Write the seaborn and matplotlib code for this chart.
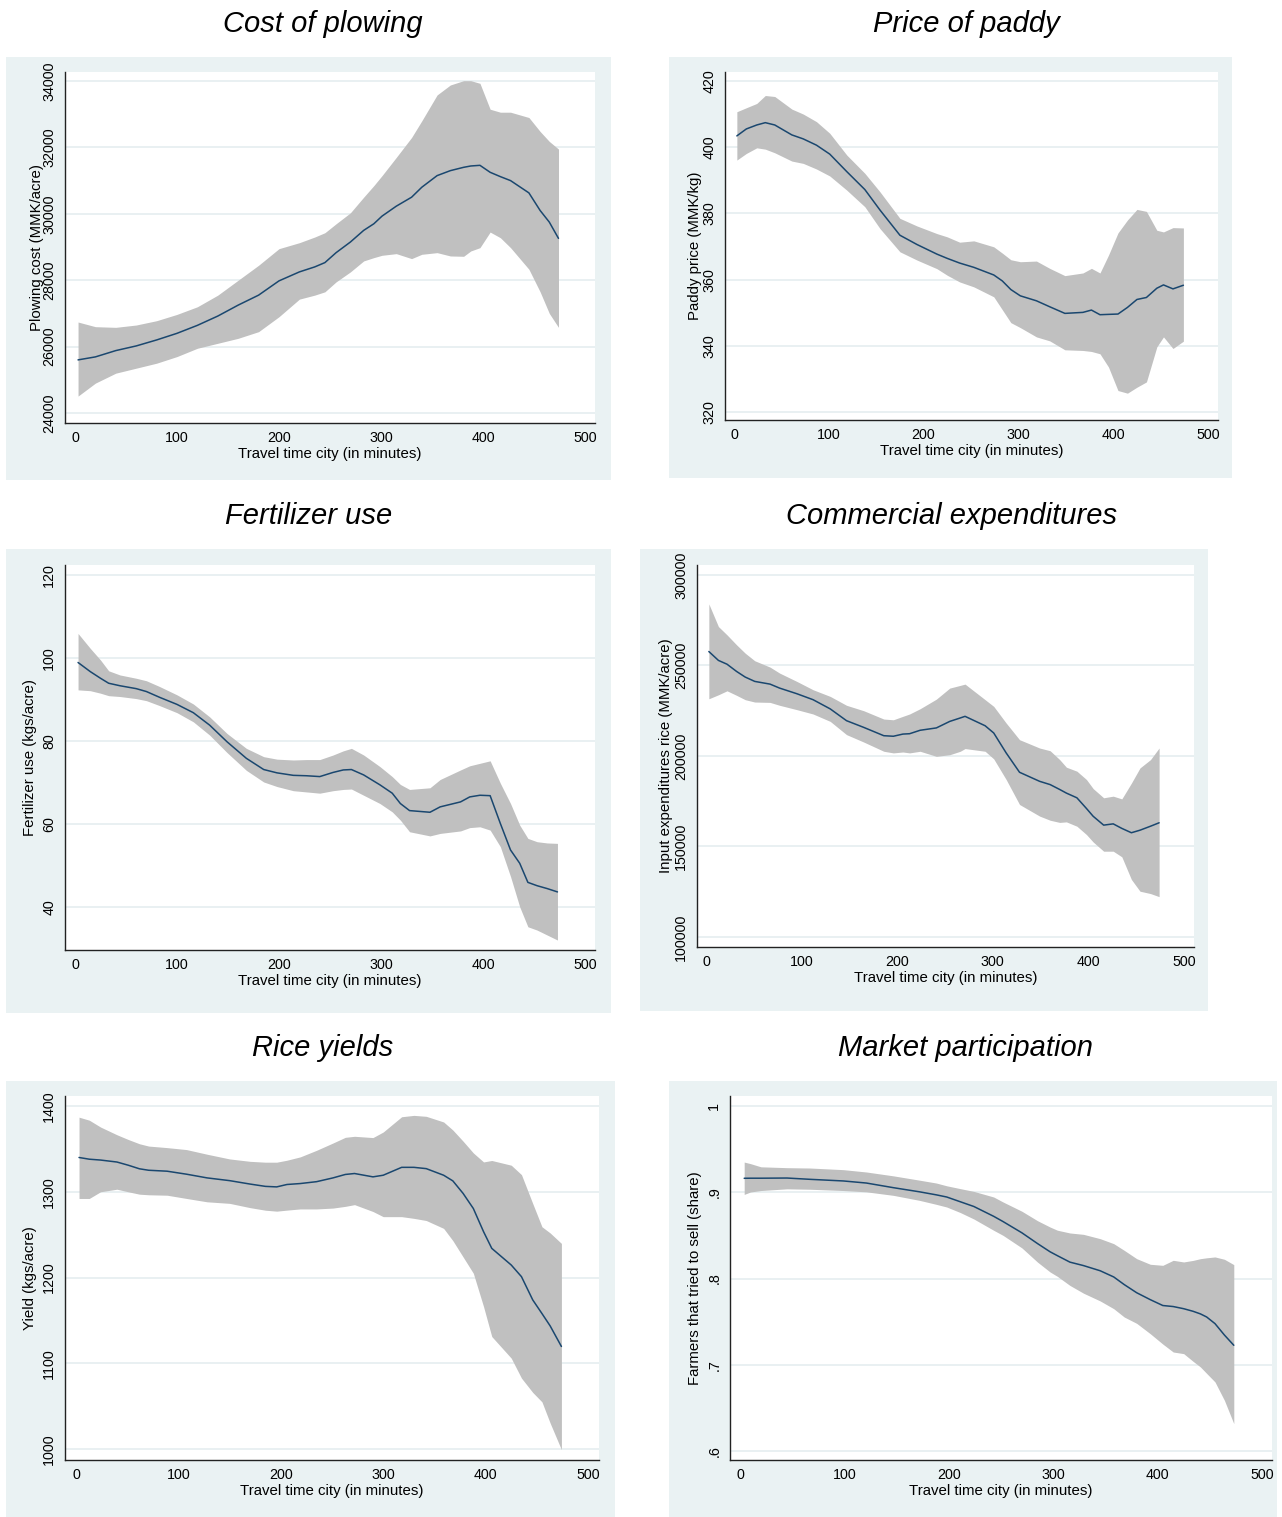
import numpy as np
import matplotlib
matplotlib.use("Agg")
import matplotlib.pyplot as plt
from matplotlib.patches import Rectangle
import seaborn as sns

sns.set_theme(style="white")
plt.rcParams['font.family'] = ['Liberation Sans', 'DejaVu Sans']

# ---------------- data ----------------
x_label = "Travel time city (in minutes)"
x_ticks = [0, 100, 200, 300, 400, 500]

# Cost of plowing
plow_t = [3, 20, 40, 60, 80, 100, 120, 140, 160, 180, 200, 220, 235, 245, 256, 270, 283, 293, 301, 315,
          330, 340, 355, 368, 381, 388, 397, 407, 417, 427, 445, 456, 465, 474]
plow_mean = [25600, 25690, 25880, 26020, 26200, 26400, 26640, 26920, 27250, 27550, 27980, 28250, 28400, 28530,
             28830, 29150, 29500, 29700, 29930, 30230, 30500, 30800, 31150, 31300, 31400, 31440, 31460, 31250,
             31120, 31000, 30630, 30100, 29750, 29260]
plow_hi = [26740, 26600, 26580, 26650, 26780, 26970, 27200, 27550, 28000, 28450, 28950, 29130, 29300, 29430,
           29700, 30030, 30500, 30850, 31150, 31700, 32300, 32800, 33580, 33880, 34010, 34010, 33930, 33150,
           33060, 33060, 32900, 32480, 32180, 31950]
plow_lo = [24510, 24900, 25200, 25350, 25500, 25700, 25950, 26100, 26250, 26450, 26900, 27430, 27550, 27650,
           27950, 28250, 28580, 28680, 28750, 28800, 28650, 28780, 28830, 28730, 28720, 28880, 28980, 29450,
           29280, 28980, 28330, 27650, 27000, 26580]
plow_yticks = [24000, 26000, 28000, 30000, 32000, 34000]
plow_ylabels = ["24000", "26000", "28000", "30000", "32000", "34000"]

# Price of paddy
paddy_t = [3, 13, 24, 33, 43, 61, 73, 87, 101, 119, 138, 154, 175, 193, 214, 225, 238, 253, 274, 283,
           292, 302, 319, 333, 349, 368, 377, 386, 395, 405, 415, 425, 435, 446, 453, 463, 474]
paddy_mean = [403.4, 405.5, 406.7, 407.4, 406.7, 403.7, 402.5, 400.6, 397.9, 392.6, 387.2, 381, 373.4, 370.6,
              367.7, 366.4, 365, 363.7, 361.4, 359.6, 357, 355.1, 353.6, 351.8, 349.8, 350.1, 350.8, 349.4,
              349.5, 349.6, 351.6, 354, 354.6, 357.4, 358.4, 357.2, 358.3]
paddy_hi = [410.7, 411.9, 413.2, 415.6, 415.3, 411.5, 410, 407.7, 404.2, 397.6, 392.1, 386.5, 378.5, 376.2,
            373.9, 372.9, 371.3, 371.7, 369.9, 368, 366, 365.4, 365.6, 363.4, 361.2, 362, 363.4, 362, 367.4,
            374.1, 378, 381.2, 380.6, 374.9, 374.4, 375.7, 375.6]
paddy_lo = [396.1, 398.1, 399.8, 399.4, 398.3, 395.8, 395.1, 393.4, 391.3, 387, 382, 375.4, 368.4, 365.9,
            363.3, 361.3, 359.3, 357.8, 354.8, 350.9, 347, 345.5, 342.7, 341.5, 338.8, 338.6, 338.3, 337.6,
            333.6, 326.5, 325.7, 327.5, 329.1, 339.7, 342.7, 339.2, 341.4]
paddy_yticks = [320, 340, 360, 380, 400, 420]
paddy_ylabels = ["320", "340", "360", "380", "400", "420"]

# Fertilizer use
fert_t = [3, 15, 25, 33, 44, 60, 70, 83, 100, 116, 132, 149, 168, 185, 198, 214, 227, 240, 253, 263,
          271, 283, 299, 311, 319, 328, 348, 358, 378, 387, 397, 407, 417, 427, 436, 444, 453, 463, 473]
fert_mean = [98.9, 96.7, 95.1, 93.9, 93.3, 92.6, 91.9, 90.5, 88.8, 86.8, 83.8, 79.8, 75.8, 73.1, 72.3, 71.7,
             71.6, 71.4, 72.4, 73, 73.1, 71.8, 69.4, 67.4, 64.9, 63.2, 62.8, 64.1, 65.3, 66.5, 66.9, 66.8,
             60.1, 53.7, 50.5, 45.9, 45.1, 44.4, 43.6]
fert_hi = [105.9, 102.3, 99.5, 96.9, 95.9, 95.1, 94.5, 93.1, 91.1, 88.9, 85.8, 81.8, 78.2, 76.2, 75.6, 75.4,
           75.5, 75.5, 76.6, 77.6, 78.2, 76.6, 73.8, 71.4, 69.5, 68.3, 68.7, 70.7, 73, 74, 74.6, 75.2, 69.8,
           64.9, 59.7, 56.5, 55.7, 55.4, 55.3]
fert_lo = [92.3, 92.1, 91.5, 90.9, 90.7, 90.2, 89.7, 88.5, 86.8, 84.6, 81.4, 77.2, 72.9, 70.1, 69, 68, 67.7,
           67.4, 68, 68.3, 68.4, 66.9, 64.9, 62.9, 60.9, 58.1, 57.1, 57.7, 58.3, 59.1, 59.3, 58.5, 54.5, 47.3,
           40, 35.2, 34.4, 33.2, 32]
fert_yticks = [40, 60, 80, 100, 120]
fert_ylabels = ["40", "60", "80", "100", "120"]

# Commercial expenditures
comm_t = [3, 13, 22, 32, 41, 51, 67, 77, 95, 112, 130, 147, 165, 186, 196, 206, 213, 224, 241, 255,
          266, 271, 292, 301, 314, 328, 349, 360, 370, 377, 388, 398, 405, 416, 426, 435, 445, 454, 465, 474]
comm_mean = [257700, 252800, 250700, 246700, 243600, 241200, 239700, 237500, 234400, 231100, 226000, 219500,
             215800, 211200, 210900, 212100, 212300, 214200, 215500, 219100, 221000, 221900, 216700, 212700,
             201700, 191000, 186000, 184200, 181500, 179500, 176900, 171000, 166700, 161800, 162500, 160000,
             157600, 159000, 161200, 163100]
comm_hi = [284000, 271500, 266900, 261400, 256800, 252600, 249100, 245800, 241200, 236600, 232900, 228000,
           225000, 220400, 220000, 221900, 223200, 226100, 231400, 237500, 239000, 239700, 231100, 227400,
           218200, 209000, 204400, 202900, 198000, 193800, 191600, 187000, 182000, 176900, 177800, 176300,
           185000, 193400, 198000, 204400]
comm_lo = [231600, 233800, 236000, 233500, 231100, 229800, 229600, 228000, 225600, 223200, 219100, 211800,
           207700, 202600, 201700, 202200, 201700, 202600, 199800, 200700, 202600, 204100, 202600, 198400,
           187000, 173200, 166800, 164500, 163300, 163600, 161200, 156600, 152500, 147400, 147400, 144300,
           131800, 125300, 124000, 122300]
comm_yticks = [100000, 150000, 200000, 250000, 300000]
comm_ylabels = ["100000", "150000", "200000", "250000", "300000"]

# Rice yields
yield_t = [3, 13, 24, 40, 51, 62, 71, 89, 108, 128, 150, 170, 185, 196, 206, 219, 235, 251, 263, 272,
           290, 300, 318, 330, 342, 359, 368, 378, 388, 398, 406, 425, 435, 446, 455, 463, 474]
yield_mean = [1340, 1338, 1337, 1334.7, 1331, 1326.8, 1325.1, 1324, 1320.5, 1316.2, 1313, 1309, 1306.3,
              1305.7, 1308.5, 1309.6, 1311.8, 1316.2, 1320.2, 1321.3, 1317.4, 1319.3, 1328.5, 1328.5, 1327,
              1319.3, 1312.7, 1298.1, 1280.5, 1253.4, 1234, 1214.6, 1201, 1173.9, 1158, 1143.6, 1119.6]
yield_hi = [1387, 1383.5, 1375.5, 1366.5, 1361, 1356, 1353.3, 1351.5, 1349.2, 1343.8, 1338.3, 1335.5, 1334.5,
            1334.5, 1336.8, 1340.7, 1348.4, 1356.9, 1363.5, 1364.7, 1363.2, 1369.7, 1387.5, 1389.1, 1388,
            1381.4, 1372, 1359, 1345.3, 1334.8, 1336.5, 1331, 1320, 1286.3, 1259.2, 1252, 1239.8]
yield_lo = [1292.2, 1292.2, 1300, 1303, 1300, 1297.2, 1296.5, 1296, 1292.2, 1288.3, 1286.5, 1281.5, 1278.5,
            1277.4, 1278.6, 1280, 1280, 1281, 1283, 1285, 1277, 1271, 1271, 1269, 1266.5, 1257.3, 1243, 1224,
            1205, 1166, 1131.2, 1106, 1082.7, 1066, 1055, 1030.3, 999.3]
yield_yticks = [1000, 1100, 1200, 1300, 1400]
yield_ylabels = ["1000", "1100", "1200", "1300", "1400"]

# Market participation
mkt_t = [4, 10, 20, 45, 67, 99, 121, 147, 172, 188, 198, 211, 224, 243, 252, 270, 285, 297, 304, 316,
         329, 345, 358, 368, 380, 393, 405, 415, 425, 434, 441, 447, 455, 464, 473]
mkt_mean = [.9162, .9163, .9163, .9165, .915, .9131, .9107, .9053, .9005, .897, .8945, .889, .8835, .8721,
            .866, .853, .8405, .831, .8265, .819, .815, .809, .8018, .793, .7835, .7755, .7687, .7675, .765,
            .762, .759, .7554, .7477, .7345, .7226]
mkt_hi = [.935, .9332, .9295, .9285, .9281, .9262, .9235, .919, .914, .9107, .9075, .9042, .901, .8945, .8887,
          .878, .867, .8597, .856, .8528, .8512, .8462, .8404, .8327, .823, .8165, .8153, .8211, .8192, .821,
          .823, .824, .825, .8223, .8161]
mkt_lo = [.8975, .9003, .902, .904, .9035, .902, .9005, .8964, .8906, .886, .8829, .8765, .869, .8559, .85,
          .8355, .819, .8076, .8025, .792, .783, .774, .765, .7554, .748, .736, .724, .7148, .7129, .704,
          .6975, .69, .6801, .6588, .6318]
mkt_yticks = [0.6, 0.7, 0.8, 0.9, 1.0]
mkt_ylabels = [".6", ".7", ".8", ".9", "1"]

# ---------------- layout / style ----------------
W, H = 1282, 1517
BG = '#EAF2F3'
GRID = '#E3ECEF'
BAND = '#C0C0C0'
LINE = '#1A476F'
AXC = '#222222'

panels = [
    dict(title="Cost of plowing", t=plow_t, m=plow_mean, lo=plow_lo, hi=plow_hi,
         ylabel="Plowing cost (MMK/acre)", yt=plow_yticks, ytl=plow_ylabels,
         xlim=(-9.8, 509.8), ylim=(23699, 34271),
         ax=(65, 72, 595, 423), bg=(6, 57, 611, 480), tpos=(323, 24), yoff=-21),
    dict(title="Price of paddy", t=paddy_t, m=paddy_mean, lo=paddy_lo, hi=paddy_hi,
         ylabel="Paddy price (MMK/kg)", yt=paddy_yticks, ytl=paddy_ylabels,
         xlim=(-9.5, 510.5), ylim=(317.6, 422.7),
         ax=(725, 72, 1218, 420), bg=(669, 57, 1232, 478), tpos=(966, 24), yoff=-23),
    dict(title="Fertilizer use", t=fert_t, m=fert_mean, lo=fert_lo, hi=fert_hi,
         ylabel="Fertilizer use (kgs/acre)", yt=fert_yticks, ytl=fert_ylabels,
         xlim=(-9.8, 509.8), ylim=(29.6, 122.4),
         ax=(65, 565, 595, 950), bg=(6, 549, 611, 1013), tpos=(309, 516), yoff=-28),
    dict(title="Commercial expenditures", t=comm_t, m=comm_mean, lo=comm_lo, hi=comm_hi,
         ylabel="Input expenditures rice (MMK/acre)", yt=comm_yticks, ytl=comm_ylabels,
         xlim=(-9.4, 510.5), ylim=(94480, 305500),
         ax=(697, 565, 1194, 947), bg=(640, 549, 1208, 1011), tpos=(952, 516), yoff=-24),
    dict(title="Rice yields", t=yield_t, m=yield_mean, lo=yield_lo, hi=yield_hi,
         ylabel="Yield (kgs/acre)", yt=yield_yticks, ytl=yield_ylabels,
         xlim=(-10.7, 510.7), ylim=(987.2, 1411.7),
         ax=(65, 1096, 599, 1460), bg=(6, 1081, 615, 1517), tpos=(323, 1048), yoff=-28),
    dict(title="Market participation", t=mkt_t, m=mkt_mean, lo=mkt_lo, hi=mkt_hi,
         ylabel="Farmers that tried to sell (share)", yt=mkt_yticks, ytl=mkt_ylabels,
         xlim=(-9.6, 509.6), ylim=(0.5896, 1.0116),
         ax=(730, 1096, 1272, 1460), bg=(669, 1081, 1277, 1517), tpos=(966, 1048), yoff=-28),
]

fig = plt.figure(figsize=(W / 100, H / 100), dpi=100, facecolor='white')

for p in panels:
    bl, bt, br, bb = p['bg']
    fig.patches.append(Rectangle((bl / W, 1 - bb / H), (br - bl) / W, (bb - bt) / H,
                                 transform=fig.transFigure, facecolor=BG, edgecolor='none', zorder=-10))
    l, t, r, b = p['ax']
    ax = fig.add_axes([l / W, 1 - b / H, (r - l) / W, (b - t) / H])
    ax.set_zorder(1)
    ax.set_facecolor('white')
    ax.fill_between(p['t'], p['lo'], p['hi'], color=BAND, linewidth=0, zorder=2)
    sns.lineplot(x=p['t'], y=p['m'], ax=ax, color=LINE, linewidth=1.1, zorder=3)
    ax.set_xlim(*p['xlim'])
    ax.set_ylim(*p['ylim'])
    ax.set_xticks(x_ticks)
    ax.set_xticklabels([str(v) for v in x_ticks])
    ax.set_yticks(p['yt'])
    ax.set_yticklabels(p['ytl'], rotation=90, va='center')
    ax.grid(axis='y', color=GRID, linewidth=1.1)
    ax.grid(axis='x', visible=False)
    ax.set_axisbelow(True)
    for s in ['top', 'right']:
        ax.spines[s].set_visible(False)
    for s in ['left', 'bottom']:
        ax.spines[s].set_color(AXC)
        ax.spines[s].set_linewidth(1.0)
    ax.tick_params(axis='both', direction='out', length=4.3, width=0.8, color=AXC,
                   labelsize=10.3, labelcolor='black')
    ax.tick_params(axis='x', pad=1.7)
    ax.tick_params(axis='y', pad=2.0)
    ax.set_xlabel(x_label, fontsize=10.8, labelpad=1.0, color='black')
    ax.set_ylabel(p['ylabel'], fontsize=10.8, color='black')
    ax.yaxis.set_label_coords(p['yoff'] / (r - l), 0.5)
    fig.text(p['tpos'][0] / W, 1 - p['tpos'][1] / H, p['title'], fontsize=21, style='italic',
             ha='center', va='center', color='black')

fig.savefig("out.png", dpi=100, facecolor='white')
